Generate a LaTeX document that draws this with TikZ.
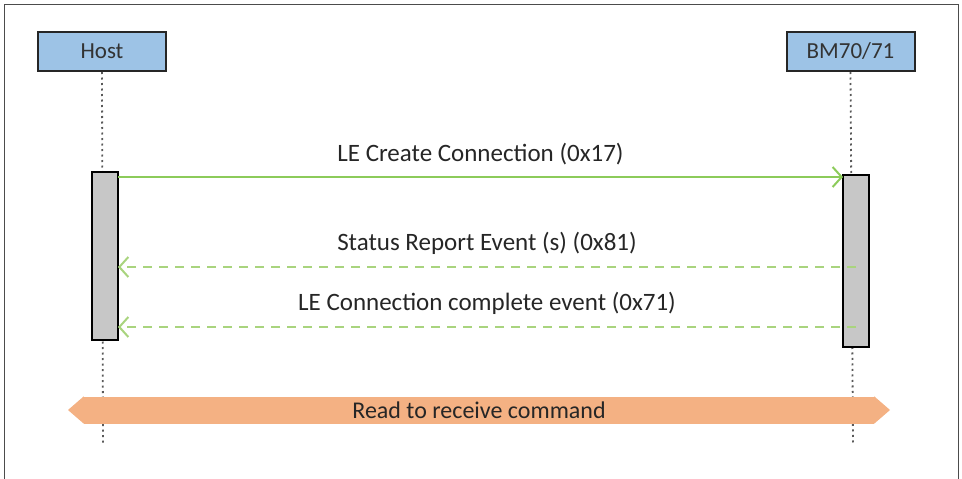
\documentclass[tikz,border=0pt]{standalone}
\usepackage{fontspec}
\setmainfont{Carlito}
\usetikzlibrary{arrows.meta}
\definecolor{boxblue}{HTML}{9DC3E6}
\definecolor{ora}{HTML}{F4B183}
\definecolor{grn}{HTML}{8CCB5A}
\definecolor{grn2}{HTML}{A9D47E}
\begin{document}
\begin{tikzpicture}[x=1pt,y=-1pt,
  actor/.style={draw=black!85,line width=2pt,fill=boxblue,minimum width=128pt,minimum height=39pt,font=\fontsize{23}{26}\selectfont,text=black!80},
  act/.style={draw=black,line width=2pt,fill=black!22,minimum width=26pt,inner sep=0},
  life/.style={black!65,line width=1.8pt,dash pattern=on 2pt off 3.5pt},
  msg/.style={grn,line width=2pt,-{Straight Barb[length=9pt,width=20pt]}},
  ret/.style={msg,dash pattern=on 9pt off 7pt,draw=grn2},
  lbl/.style={font=\fontsize{25}{28}\selectfont,text=black!85}]
\useasboundingbox (0,0) rectangle (962,479);
\draw[black!70,line width=1pt] (4,479) -- (4,4) -- (958,4) -- (958,479);
\node[actor] (host) at (102,51.5) {Host};
\node[actor] (bm) at (850.5,51.5) {BM70/71};
\coordinate (hend) at (103,445);
\coordinate (bend) at (853,445);
\draw[life] (host.south) -- (hend);
\draw[life] (bm.south) -- (bend);
\node[act,minimum height=168pt] (ha) at (104.5,256) {};
\node[act,minimum height=172pt] (ba) at (855.5,261) {};
\node[fill=ora,minimum width=790pt,minimum height=27pt,inner sep=0,lbl,font=\fontsize{24}{26}\selectfont] (ban) at (479,410) {Read to receive command};
\fill[ora] (ban.north east) -- (890,410) -- (ban.south east) -- cycle;
\fill[ora] (ban.north west) -- (68,410) -- (ban.south west) -- cycle;
\coordinate (a1) at (118,177); \coordinate (b1) at (843,177);
\draw[msg] (a1) -- node[lbl,above=8pt]{LE Create Connection (0x17)} (b1);
\coordinate (b2) at (856,267); \coordinate (a2) at (118,267);
\draw[ret] (b2) -- node[lbl,above=8pt]{Status Report Event (s) (0x81)} (a2);
\coordinate (b3) at (856,327); \coordinate (a3) at (118,327);
\draw[ret] (b3) -- node[lbl,above=8pt]{LE Connection complete event (0x71)} (a3);
\end{tikzpicture}
\end{document}
